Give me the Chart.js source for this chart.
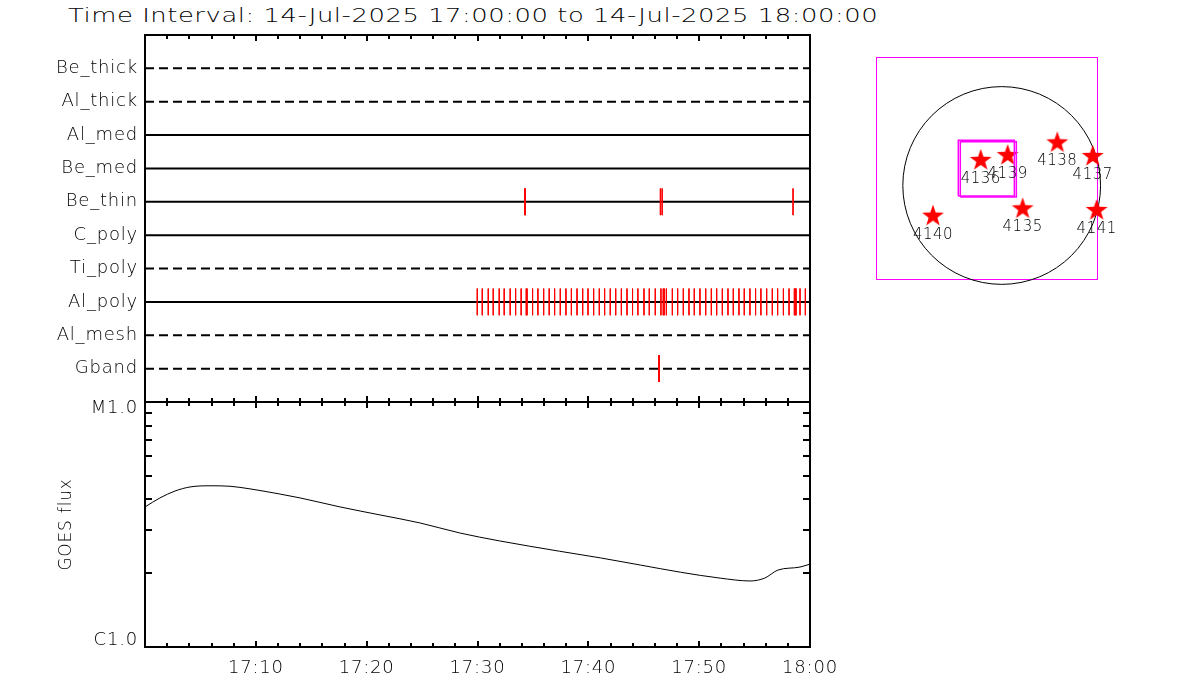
<!DOCTYPE html>
<html lang="en">
<head>
    <meta charset="UTF-8">
    <title>XRT filter timeline and GOES flux</title>
    <script src="https://cdn.jsdelivr.net/npm/chart.js"></script>
    <style>
        body { margin: 0; background: #fff; width: 1200px; height: 700px; position: relative; overflow: hidden; }
        #title { position: absolute; left: 68px; top: 3px; font: 200 19px "DejaVu Sans"; line-height: 24px;
                 letter-spacing: 0.4px; white-space: nowrap; color: #000;
                 transform: scaleX(1.36); transform-origin: left center; }
        .panel { position: absolute; }
    </style>
</head>
<body>
<div id="title">Time Interval: 14-Jul-2025 17:00:00 to 14-Jul-2025 18:00:00</div>
<div class="panel" style="left:0;top:0;width:830px;height:410px"><canvas id="filterChart"></canvas></div>
<div class="panel" style="left:0;top:385px;width:860px;height:315px"><canvas id="goesChart"></canvas></div>
<div class="panel" style="left:860px;top:40px;width:260px;height:260px"><canvas id="mapChart"></canvas></div>

<script>
    // filter rows, top to bottom
    const filterNames = ['Be_thick', 'Al_thick', 'Al_med', 'Be_med', 'Be_thin', 'C_poly', 'Ti_poly', 'Al_poly', 'Al_mesh', 'Gband'];
    const dashedRows = ['Be_thick', 'Al_thick', 'Ti_poly', 'Al_mesh', 'Gband'];

    // exposure times, minutes after 17:00
    const beThinTimes = [34.26, 34.32, 46.50, 46.66, 58.47];
    const alPolyTimes = [29.98, 30.43, 30.97, 31.42, 31.96, 32.41, 32.95, 33.44, 33.94, 34.40, 34.47, 34.97,
        35.45, 35.97, 36.47, 36.96, 37.47, 37.98, 38.47, 38.98, 39.49, 39.97, 40.48, 40.99, 41.47, 41.98,
        42.47, 42.98, 43.49, 43.99, 44.47, 45.02, 45.50, 46.04, 46.55, 46.76, 46.85, 47.04, 47.58, 48.06,
        48.57, 49.08, 49.56, 50.07, 50.59, 51.10, 51.58, 52.09, 52.60, 53.08, 53.59, 54.07, 54.58, 55.09,
        55.57, 56.09, 56.60, 57.08, 57.60, 58.11, 58.59, 58.66, 58.74, 59.10, 59.58];
    const gbandTimes = [46.35, 46.41];

    // GOES 1-8 A flux, units of 1e-6 W/m^2 (C class)
    const goesMinutes = [0, 1.35, 2.7, 4.06, 5.86, 7.67, 9.47, 12.18, 13.99, 17.6, 21.2, 24.8, 28.4, 32.0,
        37.4, 41.1, 44.7, 48.3, 51.9, 54.6, 55.9, 57.1, 59.1, 60];
    const goesFlux = [3.73, 4.06, 4.33, 4.50, 4.55, 4.53, 4.42, 4.21, 4.06, 3.73, 3.46, 3.21, 2.92, 2.71,
        2.46, 2.31, 2.16, 2.02, 1.91, 1.86, 1.91, 2.06, 2.12, 2.18];
    const fluxMinorTicks = [2, 3, 4, 5, 6, 7, 8, 9];

    // active regions on the disk (arcsec from disk centre)
    const regionNames = ['4136', '4139', '4138', '4137', '4140', '4135', '4141'];
    const regionX = [-200, 57, 531, 869, -656, 200, 907];
    const regionY = [244, 291, 412, 282, -288, -218, -234];
    const fovX = [[-414, 121], [-395, 140]];
    const fovY = [[-100, 432], [-110, 418]];
    const sunRadius = 944;

    const FONT = 'DejaVu Sans';
    Chart.defaults.font.family = FONT;
    Chart.defaults.font.weight = 200;
    Chart.defaults.color = '#000';
    const minorStep = 2, majorStep = 10;

    // IDL style frame with inward ticks
    const timeFrame = {
        id: 'timeFrame',
        beforeDraw(chart) {
            chart.ctx.letterSpacing = '0.8px';
        },
        afterDraw(chart, args, opts) {
            const {ctx, chartArea: a, scales} = chart;
            const xs = scales.x;
            ctx.save();
            ctx.strokeStyle = '#000';
            ctx.lineWidth = 2;
            ctx.strokeRect(a.left, a.top, a.right - a.left, a.bottom - a.top);
            ctx.beginPath();
            for (let t = 0; t <= 60; t += minorStep) {
                const x = Math.round(xs.getPixelForValue(t));
                const len = t % majorStep === 0 ? 6 : 4;
                ctx.moveTo(x, a.top); ctx.lineTo(x, a.top + len);
                ctx.moveTo(x, a.bottom); ctx.lineTo(x, a.bottom - len);
            }
            if (opts.yTicks) {
                const ys = scales.y;
                fluxMinorTicks.forEach(v => {
                    const y = Math.round(ys.getPixelForValue(v));
                    ctx.moveTo(a.left, y); ctx.lineTo(a.left + 7, y);
                    ctx.moveTo(a.right, y); ctx.lineTo(a.right - 7, y);
                });
            }
            ctx.stroke();
            ctx.restore();
        }
    };

    function noEndPadding(s) {
        s.paddingTop = 0; s.paddingBottom = 0; s.paddingLeft = 0; s.paddingRight = 0;
    }

    function tickSegments(times, row) {
        const pts = [];
        times.forEach(t => {
            pts.push({x: t, y: row - 0.4}, {x: t, y: row + 0.4}, {x: t, y: null});
        });
        return pts;
    }

    const rowDatasets = filterNames.map((name, i) => ({
        data: [{x: 0, y: i + 1}, {x: 60, y: i + 1}],
        borderColor: '#000',
        borderWidth: 2,
        borderDash: dashedRows.includes(name) ? [9, 5] : []
    }));
    const eventDatasets = [
        ['Be_thin', beThinTimes], ['Al_poly', alPolyTimes], ['Gband', gbandTimes]
    ].map(([name, times]) => ({
        data: tickSegments(times, filterNames.indexOf(name) + 1),
        borderColor: '#ff0000',
        borderWidth: 1,
        spanGaps: false
    }));

    new Chart(document.getElementById('filterChart'), {
        type: 'line',
        data: {datasets: eventDatasets.concat(rowDatasets)},
        options: {
            responsive: true,
            maintainAspectRatio: false,
            animation: false,
            layout: {padding: {top: 35, right: 20, bottom: 8, left: 0}},
            elements: {point: {radius: 0}, line: {tension: 0}},
            plugins: {legend: {display: false}, tooltip: {enabled: false}, timeFrame: {yTicks: false}},
            scales: {
                x: {type: 'linear', min: 0, max: 60, display: false, afterFit: noEndPadding},
                y: {
                    type: 'linear', min: 0, max: 11, reverse: true,
                    afterFit(s) { s.width = 145; noEndPadding(s); },
                    grid: {display: false, drawTicks: false},
                    border: {display: false},
                    ticks: {
                        stepSize: 1, autoSkip: false, padding: 7,
                        font: {size: 18},
                        callback: v => filterNames[v - 1] || ''
                    }
                }
            }
        },
        plugins: [timeFrame]
    });

    new Chart(document.getElementById('goesChart'), {
        type: 'line',
        data: {
            datasets: [{
                data: goesMinutes.map((t, i) => ({x: t, y: goesFlux[i]})),
                borderColor: '#000',
                borderWidth: 1,
                pointRadius: 0,
                cubicInterpolationMode: 'monotone'
            }]
        },
        options: {
            responsive: true,
            maintainAspectRatio: false,
            animation: false,
            layout: {padding: {top: 17, right: 50, bottom: 0, left: 0}},
            plugins: {legend: {display: false}, tooltip: {enabled: false}, timeFrame: {yTicks: true}},
            scales: {
                x: {
                    type: 'linear', min: 0, max: 60,
                    afterFit(s) { s.height = 53; noEndPadding(s); },
                    grid: {display: false, drawTicks: false},
                    border: {display: false},
                    ticks: {
                        stepSize: 10, padding: 11, font: {size: 18}, maxRotation: 0,
                        callback: v => v === 0 ? '' : (v === 60 ? '18:00' : '17:' + v)
                    }
                },
                y: {
                    type: 'logarithmic', min: 1, max: 10,
                    afterFit(s) { s.width = 145; noEndPadding(s); },
                    grid: {display: false, drawTicks: false},
                    border: {display: false},
                    title: {display: true, text: 'GOES flux', font: {size: 17}, padding: {top: 56, bottom: 0}},
                    ticks: {
                        autoSkip: false, padding: 7, font: {size: 18, lineHeight: 0.72},
                        // IDL puts the end labels just inside the axis range
                        callback: v => v === 1 ? ['C1.0', ''] : (v === 10 ? ['', 'M1.0'] : '')
                    }
                }
            }
        },
        plugins: [timeFrame]
    });

    // filled red star marker
    const star = document.createElement('canvas');
    star.width = 24; star.height = 24;
    (function () {
        const c = star.getContext('2d');
        c.fillStyle = '#ff0000';
        c.beginPath();
        for (let k = 0; k < 10; k++) {
            const r = k % 2 === 0 ? 11.5 : 4.6;
            const ang = -Math.PI / 2 + k * Math.PI / 5;
            c.lineTo(12 + r * Math.cos(ang), 12.5 + r * Math.sin(ang));
        }
        c.closePath();
        c.fill();
    })();

    const mapDecor = {
        id: 'mapDecor',
        beforeDatasetsDraw(chart) {
            const {ctx, chartArea: a, scales: {x, y}} = chart;
            ctx.save();
            ctx.strokeStyle = '#ff00ff';
            ctx.lineWidth = 1;
            ctx.strokeRect(Math.round(a.left) + 0.5, Math.round(a.top) + 0.5, Math.round(a.right - a.left), Math.round(a.bottom - a.top));
            const cx = x.getPixelForValue(0), cy = y.getPixelForValue(0);
            const r = x.getPixelForValue(sunRadius) - cx;
            ctx.strokeStyle = '#000';
            ctx.beginPath();
            ctx.arc(cx, cy, r, 0, Math.PI * 2);
            ctx.stroke();
            ctx.restore();
        },
        afterDatasetsDraw(chart) {
            const {ctx} = chart;
            const meta = chart.getDatasetMeta(2);
            ctx.save();
            ctx.fillStyle = '#000';
            ctx.font = '200 15px "' + FONT + '"';
            ctx.letterSpacing = '0.5px';
            ctx.textAlign = 'center';
            ctx.textBaseline = 'middle';
            meta.data.forEach((pt, i) => ctx.fillText(regionNames[i], pt.x, pt.y + 19));
            ctx.restore();
        }
    };

    function boxPath(xr, yr) {
        return [{x: xr[0], y: yr[0]}, {x: xr[1], y: yr[0]}, {x: xr[1], y: yr[1]}, {x: xr[0], y: yr[1]}, {x: xr[0], y: yr[0]}];
    }

    new Chart(document.getElementById('mapChart'), {
        type: 'scatter',
        data: {
            datasets: [
                {type: 'line', data: boxPath(fovX[0], fovY[0]), borderColor: '#ff00ff', borderWidth: 1.5, pointRadius: 0},
                {type: 'line', data: boxPath(fovX[1], fovY[1]), borderColor: '#ff00ff', borderWidth: 1.5, pointRadius: 0},
                {
                    data: regionX.map((v, i) => ({x: v, y: regionY[i]})),
                    pointStyle: star,
                    clip: false
                }
            ]
        },
        options: {
            responsive: true,
            maintainAspectRatio: false,
            animation: false,
            layout: {padding: {left: 16, top: 17, right: 23, bottom: 21}},
            plugins: {legend: {display: false}, tooltip: {enabled: false}},
            scales: {
                x: {type: 'linear', min: -1200, max: 910, display: false},
                y: {type: 'linear', min: -893, max: 1227, display: false}
            }
        },
        plugins: [mapDecor]
    });
</script>
</body>
</html>
